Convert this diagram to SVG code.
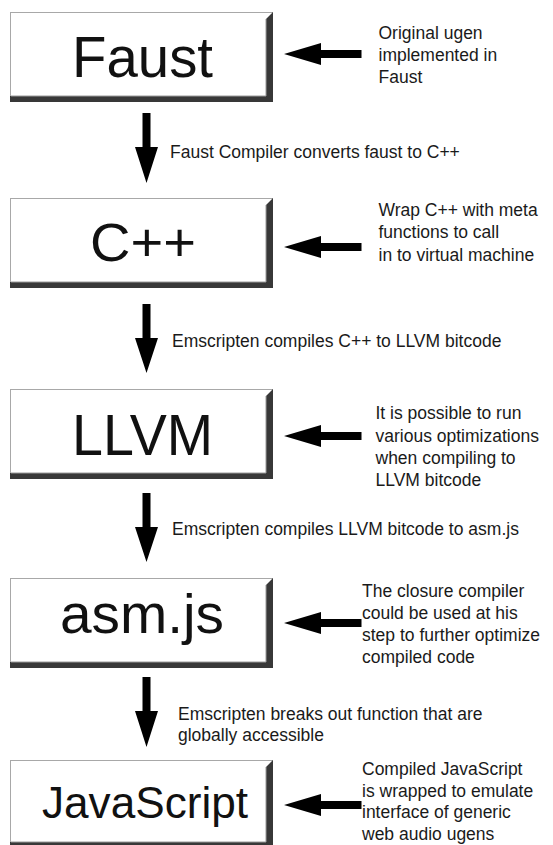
<svg xmlns="http://www.w3.org/2000/svg" width="553" height="845" viewBox="0 0 553 845">
<defs>
<style>
.face{fill:#ffffff;stroke:#a8a8a8;stroke-width:1}
.bevel{fill:#383838}
.hl{fill:none;stroke:#9a9a9a;stroke-width:1}
.big{font-family:"Liberation Sans",Arial,Helvetica,sans-serif;fill:#111;}
.lbl{font-family:"Liberation Sans",Arial,Helvetica,sans-serif;font-size:17.5px;fill:#1a1a1a}
.arr{fill:#000}
</style>
<g id="boxshape">
<rect class="face" x="10.5" y="0.5" width="262" height="89"/>
<polygon class="bevel" points="266,7 273,0 273,90 10,90 10,84 266,84"/>
<polyline class="hl" points="266,7 266,84 11,84"/>
</g>
<g id="boxshape-last">
<rect class="face" x="10.5" y="0.5" width="262" height="87"/>
<polygon class="bevel" points="266,7 273,0 273,88 10,88 10,82 266,82"/>
<polyline class="hl" points="266,7 266,82 11,82"/>
</g>
</defs>

<g id="node-faust">
<use href="#boxshape" y="12"/>
<text class="big" x="72" y="77" font-size="58" textLength="141" lengthAdjust="spacingAndGlyphs">Faust</text>
</g>
<g id="node-cpp">
<use href="#boxshape" y="198"/>
<text class="big" x="90" y="261" font-size="53" textLength="106" lengthAdjust="spacingAndGlyphs">C++</text>
</g>
<g id="node-llvm">
<use href="#boxshape" y="389"/>
<text class="big" x="72" y="455" font-size="58" textLength="141" lengthAdjust="spacingAndGlyphs">LLVM</text>
</g>
<g id="node-asmjs">
<use href="#boxshape" y="578"/>
<text class="big" x="60" y="633" font-size="55" textLength="164" lengthAdjust="spacingAndGlyphs">asm.js</text>
</g>
<g id="node-javascript">
<use href="#boxshape-last" y="760"/>
<text class="big" x="42" y="818" font-size="44" textLength="206" lengthAdjust="spacingAndGlyphs">JavaScript</text>
</g>

<g id="connectors">
<polygon class="arr" points="142.5,113 150.5,113 150.5,147 158,147 146.5,183 135,147 142.5,147"/>
<polygon class="arr" points="142.5,304 150.5,304 150.5,338 158,338 146.5,373 135,338 142.5,338"/>
<polygon class="arr" points="142.5,493 150.5,493 150.5,527 158,527 146.5,562 135,527 142.5,527"/>
<polygon class="arr" points="142.5,677 150.5,677 150.5,711 158,711 146.5,747 135,711 142.5,711"/>

<polygon class="arr" points="284,54 321,43 321,50 361.5,50 361.5,58 321,58 321,65"/>
<polygon class="arr" points="284,247 321,236 321,243 361.5,243 361.5,251 321,251 321,258"/>
<polygon class="arr" points="284,436 321,425 321,432 361.5,432 361.5,440 321,440 321,447"/>
<polygon class="arr" points="284,623 321,612 321,619 361.5,619 361.5,627 321,627 321,634"/>
<polygon class="arr" points="284,805 321,794 321,801 361.5,801 361.5,809 321,809 321,816"/>
</g>

<g id="labels">
<text class="lbl" x="170" y="158">Faust Compiler converts faust to C++</text>
<text class="lbl" x="172" y="347">Emscripten compiles C++ to LLVM bitcode</text>
<text class="lbl" x="172" y="535">Emscripten compiles LLVM bitcode to asm.js</text>
<text class="lbl" x="178" y="720">Emscripten breaks out function that are</text>
<text class="lbl" x="178" y="741">globally accessible</text>

<text class="lbl" x="378.5" y="39">Original ugen</text>
<text class="lbl" x="378.5" y="61">implemented in</text>
<text class="lbl" x="378.5" y="83">Faust</text>

<text class="lbl" x="378.5" y="216">Wrap C++ with meta</text>
<text class="lbl" x="378.5" y="238">functions to call</text>
<text class="lbl" x="378.5" y="261">in to virtual machine</text>

<text class="lbl" x="375.5" y="419">It is possible to run</text>
<text class="lbl" x="375.5" y="442">various optimizations</text>
<text class="lbl" x="375.5" y="464">when compiling to</text>
<text class="lbl" x="375.5" y="486">LLVM bitcode</text>

<text class="lbl" x="362" y="597">The closure compiler</text>
<text class="lbl" x="362" y="619">could be used at his</text>
<text class="lbl" x="362" y="641">step to further optimize</text>
<text class="lbl" x="362" y="663">compiled code</text>

<text class="lbl" x="362" y="775">Compiled JavaScript</text>
<text class="lbl" x="362" y="797">is wrapped to emulate</text>
<text class="lbl" x="362" y="818">interface of generic</text>
<text class="lbl" x="362" y="840">web audio ugens</text>
</g>
</svg>
